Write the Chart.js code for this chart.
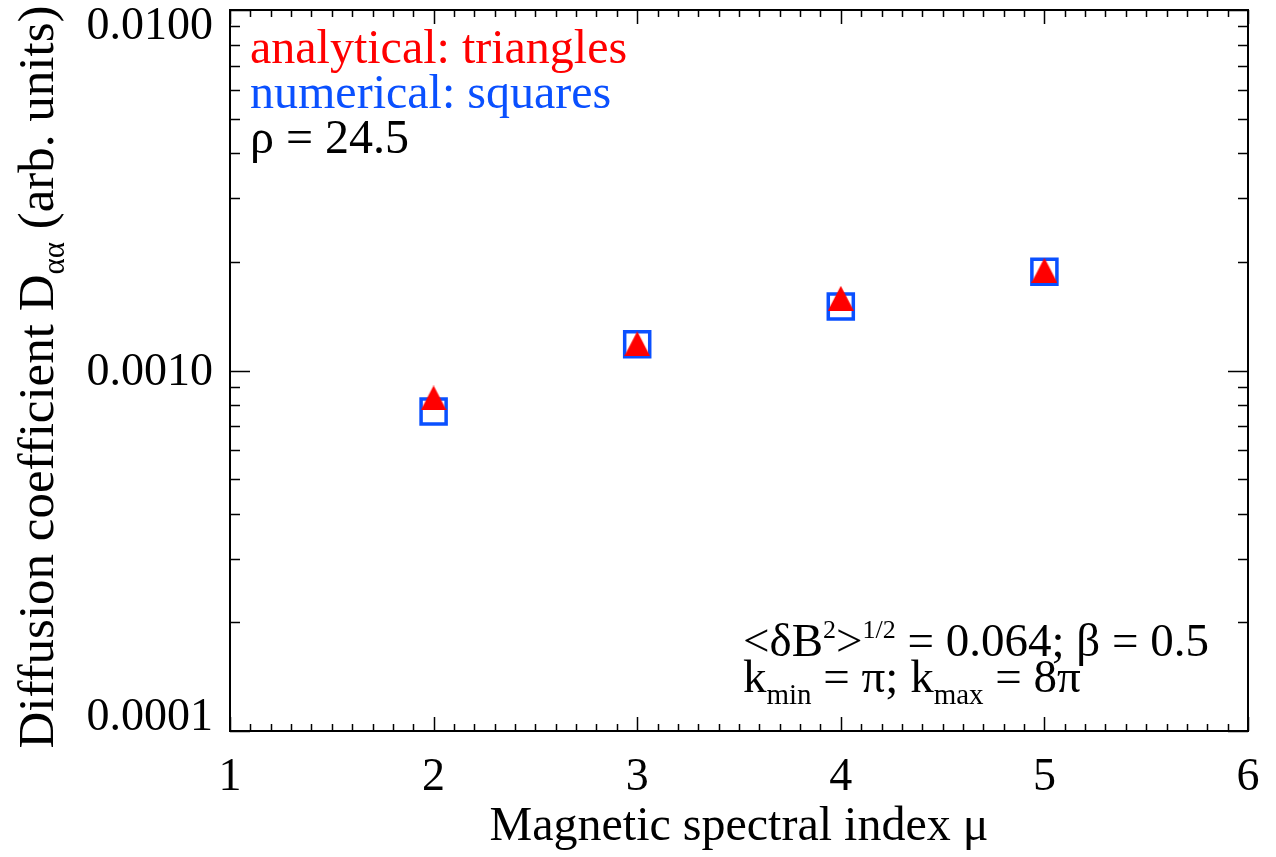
<!DOCTYPE html>
<html lang="en">
<head>
    <meta charset="UTF-8">
    <title>Diffusion coefficient vs spectral index</title>
    <script src="https://cdn.jsdelivr.net/npm/chart.js"></script>
    <style>
        body { margin: 0; background: #fff; }
        #wrap { width: 1276px; height: 857px; position: relative; }
    </style>
</head>
<body>
    <div id="wrap"><canvas id="chart"></canvas></div>

    <script>
        // spectral index values and the two sets of D_aa results
        const mu = [2, 3, 4, 5];
        const analytical = [8.39e-4, 1.186e-3, 1.586e-3, 1.897e-3];
        const numerical = [7.70e-4, 1.182e-3, 1.504e-3, 1.879e-3];

        const xTicks = [1, 2, 3, 4, 5, 6];
        const yTicks = [0.0001, 0.001, 0.01];

        const SERIF = "'Liberation Serif', 'Times New Roman', serif";
        const RED = '#ff0000';
        const BLUE = '#0a50ff';

        // filled isosceles triangle used as the point marker
        const tri = document.createElement('canvas');
        tri.width = 26; tri.height = 25;
        const tctx = tri.getContext('2d');
        tctx.fillStyle = RED;
        tctx.beginPath();
        tctx.moveTo(0, 25); tctx.lineTo(13, 0); tctx.lineTo(26, 25);
        tctx.closePath();
        tctx.fill();

        // draw a run of [text, size, dy] pieces starting at x
        function drawRuns(ctx, x, y, runs, color) {
            ctx.fillStyle = color;
            ctx.textBaseline = 'alphabetic';
            ctx.textAlign = 'left';
            runs.forEach(r => {
                ctx.font = r[1] + 'px ' + SERIF;
                ctx.fillText(r[0], x, y + (r[2] || 0));
                x += ctx.measureText(r[0]).width;
            });
            return x;
        }
        function runsWidth(ctx, runs) {
            let w = 0;
            runs.forEach(r => {
                ctx.font = r[1] + 'px ' + SERIF;
                w += ctx.measureText(r[0]).width;
            });
            return w;
        }

        const framePlugin = {
            id: 'frame',
            afterDraw(chart) {
                const ctx = chart.ctx;
                const a = chart.chartArea;
                const xs = chart.scales.x, ys = chart.scales.y;
                ctx.save();
                ctx.strokeStyle = '#000';

                // box
                ctx.lineWidth = 2;
                ctx.strokeRect(a.left, a.top, a.right - a.left, a.bottom - a.top);

                // x ticks (bottom and top), minor every 0.1
                ctx.lineWidth = 1.5;
                ctx.beginPath();
                for (let i = 0; i <= 50; i++) {
                    const v = xTicks[0] + i / 10;
                    const px = Math.round(xs.getPixelForValue(v)) + 0.5;
                    const len = i % 10 === 0 ? 14 : 7;
                    ctx.moveTo(px, a.bottom); ctx.lineTo(px, a.bottom - len);
                    ctx.moveTo(px, a.top); ctx.lineTo(px, a.top + len);
                }
                // y ticks (left and right), minor at 2..9 per decade
                for (let d = 0; d < yTicks.length; d++) {
                    const base = yTicks[d];
                    for (let m = 1; m <= 9; m++) {
                        const v = base * m;
                        if (v > yTicks[yTicks.length - 1] * 1.0001) break;
                        const py = Math.round(ys.getPixelForValue(v)) + 0.5;
                        const len = m === 1 ? 20 : 10;
                        ctx.moveTo(a.left, py); ctx.lineTo(a.left + len, py);
                        ctx.moveTo(a.right, py); ctx.lineTo(a.right - len, py);
                    }
                }
                ctx.stroke();

                // y tick labels, kept inside the axis range at the ends
                ctx.fillStyle = '#000';
                ctx.font = '46px ' + SERIF;
                ctx.textAlign = 'right';
                ctx.textBaseline = 'middle';
                yTicks.forEach(v => {
                    let py = ys.getPixelForValue(v);
                    py = Math.min(Math.max(py, a.top + 15), a.bottom - 15);
                    ctx.fillText(v.toFixed(4), a.left - 17, py + 2);
                });

                // labels inside the plot
                drawRuns(ctx, 250, 63, [['analytical: triangles', 48]], RED);
                drawRuns(ctx, 250, 108, [['numerical: squares', 48]], BLUE);
                drawRuns(ctx, 250, 153, [['\u03c1 = 24.5', 48]], '#000');

                drawRuns(ctx, 743, 656, [
                    ['<\u03b4B', 47], ['2', 26, -18], ['>', 47], ['1/2', 26, -18],
                    [' = 0.064; \u03b2 = 0.5', 47]
                ], '#000');
                drawRuns(ctx, 743, 692, [
                    ['k', 47], ['min', 29, 12], [' = \u03c0; k', 47], ['max', 29, 12],
                    [' = 8\u03c0', 47]
                ], '#000');

                // y axis title with subscript
                const yRuns = [
                    ['Diffusion coefficient D', 51], ['\u03b1\u03b1', 31, 11],
                    [' (arb. units)', 51]
                ];
                const w = runsWidth(ctx, yRuns);
                ctx.translate(53, 377);
                ctx.rotate(-Math.PI / 2);
                drawRuns(ctx, -w / 2, 0, yRuns, '#000');
                ctx.restore();
            }
        };

        new Chart(document.getElementById('chart'), {
            type: 'scatter',
            data: {
                datasets: [
                    {
                        label: 'analytical',
                        data: mu.map((m, i) => ({ x: m, y: analytical[i] })),
                        pointStyle: tri,
                        pointRadius: 13,
                        clip: false
                    },
                    {
                        label: 'numerical',
                        data: mu.map((m, i) => ({ x: m, y: numerical[i] })),
                        pointStyle: 'rect',
                        pointRadius: 17.7,
                        borderWidth: 3.5,
                        borderColor: BLUE,
                        backgroundColor: 'rgba(0,0,0,0)',
                        clip: false
                    }
                ]
            },
            options: {
                responsive: true,
                maintainAspectRatio: false,
                animation: false,
                events: [],
                layout: { autoPadding: false, padding: { left: 0, right: 28, top: 10, bottom: 0 } },
                plugins: { legend: { display: false }, tooltip: { enabled: false } },
                scales: {
                    x: {
                        type: 'linear',
                        min: xTicks[0],
                        max: xTicks[xTicks.length - 1],
                        afterBuildTicks: s => { s.ticks = xTicks.map(v => ({ value: v })); },
                        afterFit: s => { s.height = 126; s.paddingLeft = 0; s.paddingRight = 0; },
                        grid: { display: false, drawTicks: false },
                        border: { display: false },
                        ticks: {
                            color: '#000',
                            font: { family: SERIF, size: 46 },
                            padding: 19,
                            maxRotation: 0
                        },
                        title: {
                            display: true,
                            text: 'Magnetic spectral index \u03bc',
                            color: '#000',
                            font: { family: SERIF, size: 48, lineHeight: 1.2 },
                            padding: { top: 0, bottom: 1 }
                        }
                    },
                    y: {
                        type: 'logarithmic',
                        min: yTicks[0],
                        max: yTicks[yTicks.length - 1],
                        afterBuildTicks: s => { s.ticks = yTicks.map(v => ({ value: v })); },
                        afterFit: s => { s.width = 230; s.paddingTop = 0; s.paddingBottom = 0; },
                        grid: { display: false, drawTicks: false },
                        border: { display: false },
                        ticks: { display: false }
                    }
                }
            },
            plugins: [framePlugin]
        });
    </script>
</body>
</html>
